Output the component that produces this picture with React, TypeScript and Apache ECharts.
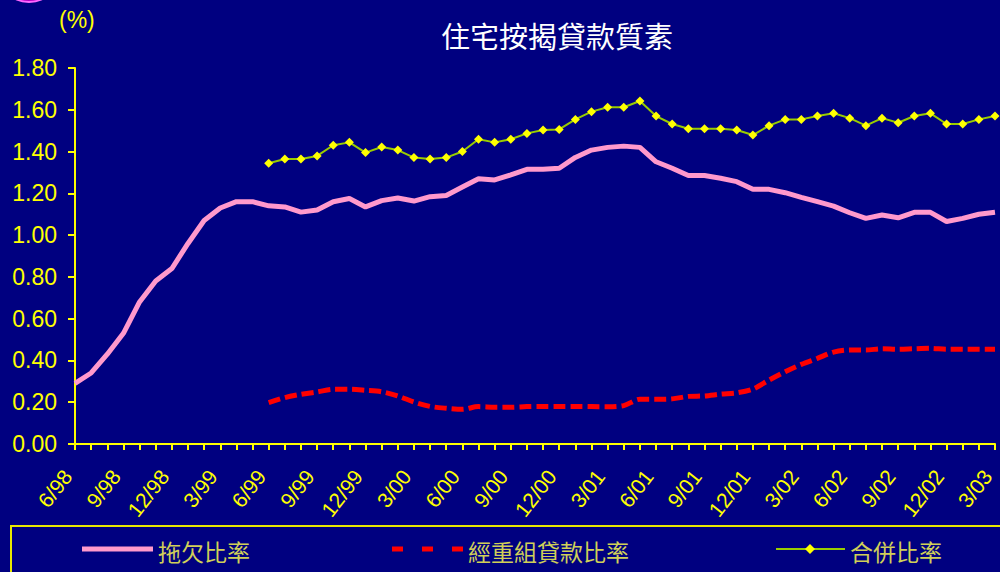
import React, { useEffect, useRef } from "react";
import * as echarts from "echarts";

const months: string[] = [
  "6/98", "7/98", "8/98", "9/98", "10/98", "11/98", "12/98",
  "1/99", "2/99", "3/99", "4/99", "5/99", "6/99", "7/99", "8/99", "9/99", "10/99", "11/99", "12/99",
  "1/00", "2/00", "3/00", "4/00", "5/00", "6/00", "7/00", "8/00", "9/00", "10/00", "11/00", "12/00",
  "1/01", "2/01", "3/01", "4/01", "5/01", "6/01", "7/01", "8/01", "9/01", "10/01", "11/01", "12/01",
  "1/02", "2/02", "3/02", "4/02", "5/02", "6/02", "7/02", "8/02", "9/02", "10/02", "11/02", "12/02",
  "1/03", "2/03", "3/03",
];

const overdueRatio: (number | null)[] = [
  0.29, 0.34, 0.43, 0.53, 0.68, 0.78, 0.84, 0.96, 1.07, 1.13, 1.16, 1.16,
  1.14, 1.135, 1.11, 1.12, 1.16, 1.175, 1.135, 1.165, 1.178, 1.163, 1.184, 1.19,
  1.23, 1.27, 1.264, 1.288, 1.315, 1.315, 1.32, 1.372, 1.407, 1.42, 1.426, 1.42,
  1.351, 1.32, 1.285, 1.285, 1.272, 1.256, 1.219, 1.219, 1.203, 1.181, 1.16, 1.139,
  1.107, 1.08, 1.096, 1.083, 1.109, 1.109, 1.065, 1.08, 1.1, 1.109,
];

const rescheduledRatio: (number | null)[] = [
  null, null, null, null, null, null, null, null, null, null, null, null,
  0.198, 0.222, 0.238, 0.249, 0.262, 0.262, 0.257, 0.25, 0.23, 0.201, 0.18, 0.171,
  0.166, 0.179, 0.176, 0.176, 0.179, 0.18, 0.18, 0.18, 0.179, 0.178, 0.184, 0.214,
  0.214, 0.216, 0.228, 0.23, 0.239, 0.245, 0.263, 0.306, 0.346, 0.381, 0.41, 0.44,
  0.45, 0.45, 0.456, 0.453, 0.456, 0.458, 0.453, 0.453, 0.453, 0.453,
];

const combinedRatio: (number | null)[] = [
  null, null, null, null, null, null, null, null, null, null, null, null,
  1.344, 1.364, 1.364, 1.379, 1.43, 1.444, 1.395, 1.422, 1.407, 1.371, 1.364, 1.371,
  1.4, 1.459, 1.444, 1.459, 1.487, 1.503, 1.506, 1.554, 1.591, 1.612, 1.612, 1.642,
  1.57, 1.532, 1.509, 1.509, 1.509, 1.503, 1.479, 1.524, 1.554, 1.554, 1.57, 1.583,
  1.56, 1.524, 1.56, 1.538, 1.57, 1.583, 1.532, 1.532, 1.554, 1.57,
];

const seriesNames = ["拖欠比率", "經重組貸款比率", "合併比率"];
const titleText = "住宅按揭貸款質素";
const unitText = "(%)";

const YELLOW = "#ffff00";
const LEGEND_TEXT = "#d0d058";
const FONT = "'Liberation Sans', Arial, sans-serif";
const CJK = "'Noto Sans CJK TC', 'Noto Sans CJK SC', sans-serif";

export default function App() {
  const ref = useRef<HTMLDivElement>(null);

  useEffect(() => {
    if (!ref.current) return;
    const chart = echarts.init(ref.current, undefined, { renderer: "svg" });
    const legendY = 549;
    const legendTextStyle = {
      fill: LEGEND_TEXT,
      fontSize: 23,
      fontFamily: CJK,
      verticalAlign: "middle" as const,
    };
    chart.setOption({
      animation: false,
      backgroundColor: "#000080",
      title: {
        text: titleText,
        left: 436,
        top: 15,
        textStyle: {
          color: "#ffffff",
          fontSize: 29,
          fontWeight: "normal",
          fontFamily: CJK,
          textShadowColor: "#3a3a3a",
          textShadowOffsetX: 2,
          textShadowOffsetY: 2,
          textShadowBlur: 0,
        },
      },
      grid: { left: 75, right: 5, top: 68, bottom: 128, containLabel: false },
      xAxis: {
        type: "category",
        data: months,
        boundaryGap: false,
        axisLine: { lineStyle: { color: YELLOW, width: 2 } },
        axisTick: { interval: 0, length: 6, lineStyle: { color: YELLOW, width: 2 } },
        axisLabel: {
          interval: 2,
          rotate: 52,
          margin: 19,
          padding: [0, 12, 0, 0],
          color: YELLOW,
          fontSize: 21,
          fontFamily: FONT,
        },
        splitLine: { show: false },
      },
      yAxis: {
        type: "value",
        min: 0,
        max: 1.8,
        interval: 0.2,
        axisLine: { show: true, lineStyle: { color: YELLOW, width: 2 } },
        axisTick: { show: true, length: 7, lineStyle: { color: YELLOW, width: 2 } },
        axisLabel: {
          margin: 18,
          color: YELLOW,
          fontSize: 23,
          fontFamily: FONT,
          formatter: (v: number) => v.toFixed(2),
        },
        splitLine: { show: false },
      },
      series: [
        {
          name: seriesNames[0],
          type: "line",
          data: overdueRatio,
          symbol: "none",
          lineStyle: { color: "#ff99cc", width: 5 },
          z: 2,
        },
        {
          name: seriesNames[1],
          type: "line",
          data: rescheduledRatio,
          symbol: "none",
          smooth: 0.3,
          lineStyle: { color: "#ff0000", width: 5, type: [12, 5] },
          z: 2,
        },
        {
          name: seriesNames[2],
          type: "line",
          data: combinedRatio,
          symbol: "diamond",
          symbolSize: 9,
          itemStyle: { color: YELLOW },
          lineStyle: { color: "#99cc00", width: 2 },
          z: 3,
        },
      ],
      graphic: [
        {
          type: "ellipse",
          shape: { cx: 29, cy: -6, rx: 17, ry: 8 },
          style: { fill: "#b000c0", stroke: "#ff66ff", lineWidth: 2 },
        },
        {
          type: "text",
          x: 59,
          y: 20,
          style: {
            text: unitText,
            fill: YELLOW,
            fontSize: 23,
            fontFamily: FONT,
            verticalAlign: "middle",
          },
        },
        {
          type: "rect",
          shape: { x: 11, y: 526, width: 1000, height: 60 },
          style: { fill: "none", stroke: "#e8e800", lineWidth: 2 },
        },
        {
          type: "line",
          shape: { x1: 82, y1: legendY, x2: 153, y2: legendY },
          style: { stroke: "#ff99cc", lineWidth: 5 },
        },
        {
          type: "text",
          x: 158,
          y: legendY + 2,
          style: { text: seriesNames[0], ...legendTextStyle },
        },
        {
          type: "line",
          shape: { x1: 392, y1: legendY, x2: 463, y2: legendY },
          style: { stroke: "#ff0000", lineWidth: 5, lineDash: [11, 19] },
        },
        {
          type: "text",
          x: 468,
          y: legendY + 2,
          style: { text: seriesNames[1], ...legendTextStyle },
        },
        {
          type: "line",
          shape: { x1: 776, y1: legendY, x2: 845, y2: legendY },
          style: { stroke: "#99cc00", lineWidth: 2 },
        },
        {
          type: "polygon",
          shape: { points: [[810, legendY - 5], [815, legendY], [810, legendY + 5], [805, legendY]] },
          style: { fill: YELLOW },
        },
        {
          type: "text",
          x: 850,
          y: legendY + 2,
          style: { text: seriesNames[2], ...legendTextStyle },
        },
      ],
    });
    return () => chart.dispose();
  }, []);

  return (
    <div
      ref={ref}
      style={{ position: "fixed", left: 0, top: 0, width: 1000, height: 572 }}
    />
  );
}
